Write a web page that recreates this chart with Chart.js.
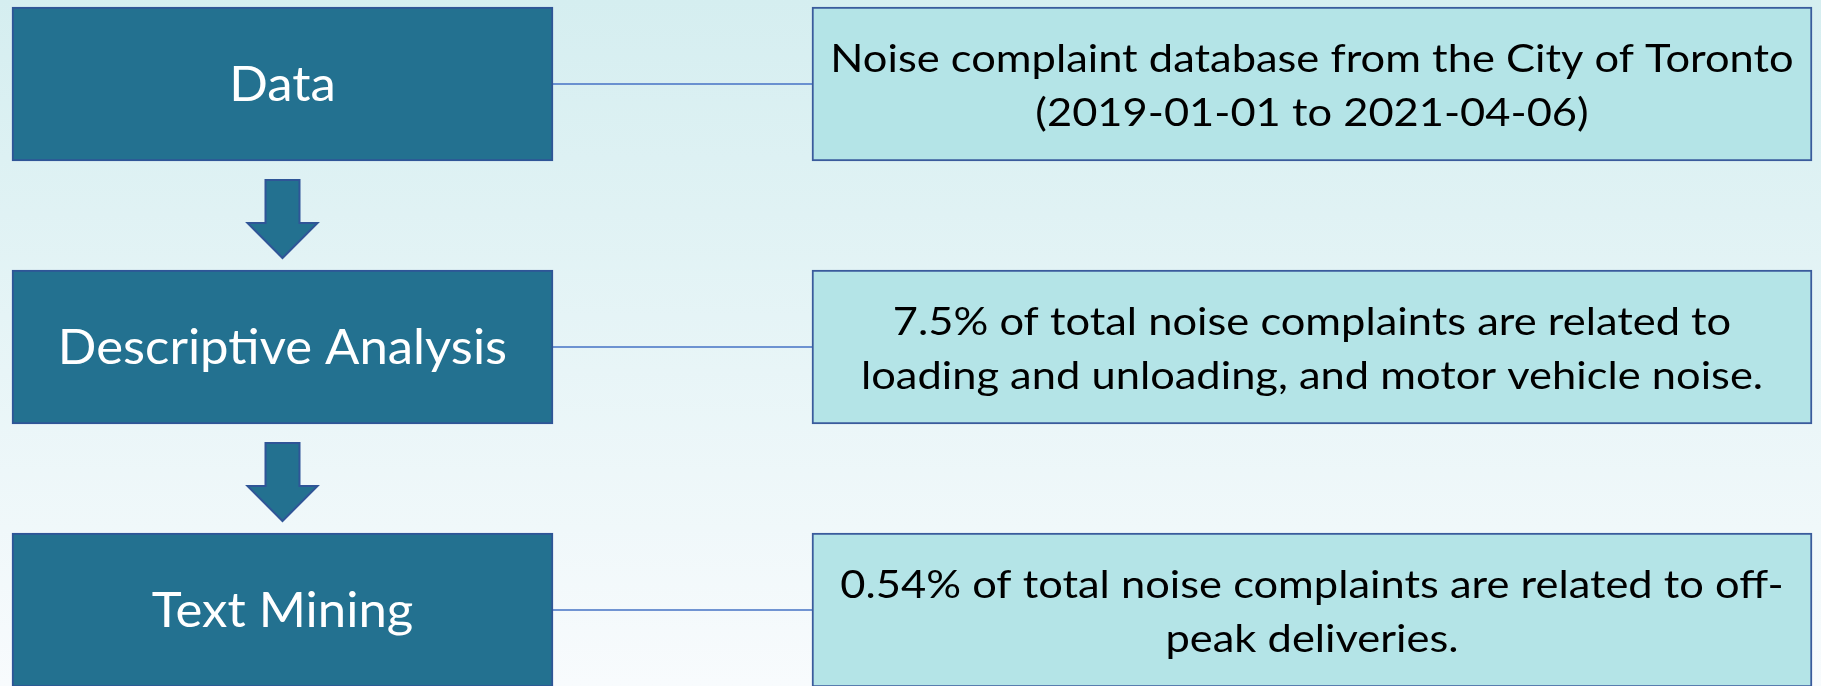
<!DOCTYPE html>
<html>
<head>
<meta charset="utf-8">
<title>Noise complaint analysis flow</title>
<script src="https://cdn.jsdelivr.net/npm/chart.js@4.4.1/dist/chart.umd.min.js"></script>
<style>
  html, body { margin: 0; padding: 0; background: #ffffff; }
  #wrap { position: relative; width: 1821px; height: 686px; }
</style>
</head>
<body>
<div id="wrap"><canvas id="chart"></canvas></div>
<script>
// ---- content ----
const stepLabels = ['Data', 'Descriptive Analysis', 'Text Mining'];
const findingLine1 = [
  'Noise complaint database from the City of Toronto',
  '7.5% of total noise complaints are related to',
  '0.54% of total noise complaints are related to off-'
];
const findingLine2 = [
  '(2019-01-01 to 2021-04-06)',
  'loading and unloading, and motor vehicle noise.',
  'peak deliveries.'
];

// ---- layout (canvas units, mapped through the chart's linear scales) ----
const LAYOUT = {
  width: 1821, height: 686,
  rowY: [84, 347, 610],
  boxH: 154,
  stepX: [12, 553],
  findingX: [812, 1812],
  arrow: { shaftHalf: 17, headHalf: 35, topGap: 19, headGap: 62, tipGap: 12 },
  lineGap: 27
};

const STYLE = {
  stepFill: '#237190',
  stepBorder: '#2F5597',
  findFill: '#B4E4E7',
  findBorder: '#3A5B9C',
  connector: '#4472C4',
  bgTop: '#D5EEF0',
  bgBottom: '#F8FBFD',
  font: 'Lato, "Open Sans", sans-serif',
  stepFontPx: 48,
  stepStretch: 1.06,
  findFontPx: 39.5,
  findStretch: 1.1
};

const stepData = stepLabels.map((t, i) => ({ x: [LAYOUT.stepX[0], LAYOUT.stepX[1]], y: LAYOUT.rowY[i] }));
const findData = findingLine1.map((t, i) => ({ x: [LAYOUT.findingX[0], LAYOUT.findingX[1]], y: LAYOUT.rowY[i] }));
const connectorSets = LAYOUT.rowY.map((y, i) => ({
  type: 'line',
  label: 'link' + i,
  data: [{ x: LAYOUT.stepX[1], y: y }, { x: LAYOUT.findingX[0], y: y }],
  borderColor: STYLE.connector,
  borderWidth: 1.5,
  pointRadius: 0,
  fill: false,
  order: 10
}));

const bgPlugin = {
  id: 'bg',
  beforeDraw(chart) {
    const ctx = chart.ctx;
    const g = ctx.createLinearGradient(0, 0, 0, chart.height);
    g.addColorStop(0, STYLE.bgTop);
    g.addColorStop(1, STYLE.bgBottom);
    ctx.save();
    ctx.fillStyle = g;
    ctx.fillRect(0, 0, chart.width, chart.height);
    ctx.restore();
  }
};

function stretchedText(ctx, text, x, y, stretch) {
  ctx.save();
  ctx.translate(x, y);
  ctx.scale(stretch, 1);
  ctx.fillText(text, 0, 0);
  ctx.restore();
}

const decorPlugin = {
  id: 'decor',
  afterDatasetsDraw(chart) {
    const ctx = chart.ctx;
    const xs = chart.scales.x, ys = chart.scales.y;
    const A = LAYOUT.arrow;
    const cx = xs.getPixelForValue((LAYOUT.stepX[0] + LAYOUT.stepX[1]) / 2);
    // arrows between steps
    for (let i = 0; i < LAYOUT.rowY.length - 1; i++) {
      const bottom = LAYOUT.rowY[i] + LAYOUT.boxH / 2;
      const nextTop = LAYOUT.rowY[i + 1] - LAYOUT.boxH / 2;
      const y0 = ys.getPixelForValue(bottom + A.topGap);
      const y1 = ys.getPixelForValue(bottom + A.headGap);
      const y2 = ys.getPixelForValue(nextTop - A.tipGap);
      const sh = xs.getPixelForValue(A.shaftHalf) - xs.getPixelForValue(0);
      const hh = xs.getPixelForValue(A.headHalf) - xs.getPixelForValue(0);
      ctx.save();
      ctx.beginPath();
      ctx.moveTo(cx - sh, y0);
      ctx.lineTo(cx + sh, y0);
      ctx.lineTo(cx + sh, y1);
      ctx.lineTo(cx + hh, y1);
      ctx.lineTo(cx, y2);
      ctx.lineTo(cx - hh, y1);
      ctx.lineTo(cx - sh, y1);
      ctx.closePath();
      ctx.fillStyle = STYLE.stepFill;
      ctx.fill();
      ctx.lineWidth = 2;
      ctx.lineJoin = 'miter';
      ctx.strokeStyle = STYLE.stepBorder;
      ctx.stroke();
      ctx.restore();
    }
    // texts
    const stepMeta = chart.getDatasetMeta(0);
    const findMeta = chart.getDatasetMeta(1);
    ctx.save();
    ctx.textAlign = 'center';
    ctx.textBaseline = 'middle';
    stepMeta.data.forEach((el, i) => {
      const mx = (el.x + el.base) / 2;
      ctx.fillStyle = '#FFFFFF';
      ctx.font = STYLE.stepFontPx + 'px ' + STYLE.font;
      stretchedText(ctx, stepLabels[i], mx, el.y + 2, STYLE.stepStretch);
    });
    findMeta.data.forEach((el, i) => {
      const mx = (el.x + el.base) / 2;
      ctx.fillStyle = '#000000';
      ctx.font = STYLE.findFontPx + 'px ' + STYLE.font;
      const g = ys.getPixelForValue(LAYOUT.lineGap) - ys.getPixelForValue(0);
      stretchedText(ctx, findingLine1[i], mx, el.y - g + 2, STYLE.findStretch);
      stretchedText(ctx, findingLine2[i], mx, el.y + g + 2, STYLE.findStretch);
    });
    ctx.restore();
  }
};

function build() {
  new Chart(document.getElementById('chart'), {
    type: 'bar',
    data: {
      datasets: [
        {
          label: 'Steps',
          data: stepData,
          backgroundColor: STYLE.stepFill,
          borderColor: STYLE.stepBorder,
          borderWidth: 2,
          borderSkipped: false,
          barThickness: LAYOUT.boxH,
          grouped: false,
          order: 1
        },
        {
          label: 'Findings',
          data: findData,
          backgroundColor: STYLE.findFill,
          borderColor: STYLE.findBorder,
          borderWidth: 2,
          borderSkipped: false,
          barThickness: LAYOUT.boxH,
          grouped: false,
          order: 1
        },
        ...connectorSets
      ]
    },
    options: {
      indexAxis: 'y',
      responsive: true,
      maintainAspectRatio: false,
      animation: false,
      layout: { padding: 0 },
      plugins: { legend: { display: false }, tooltip: { enabled: false }, title: { display: false } },
      scales: {
        x: { type: 'linear', min: 0, max: LAYOUT.width, display: false, offset: false, grace: 0 },
        y: { type: 'linear', min: 0, max: LAYOUT.height, reverse: true, display: false, offset: false, grace: 0 }
      }
    },
    plugins: [bgPlugin, decorPlugin]
  });
}

if (document.fonts && document.fonts.load) {
  Promise.all([
    document.fonts.load('48px Lato'),
    document.fonts.load('39.5px Lato')
  ]).then(build, build);
} else {
  build();
}
</script>
</body>
</html>
